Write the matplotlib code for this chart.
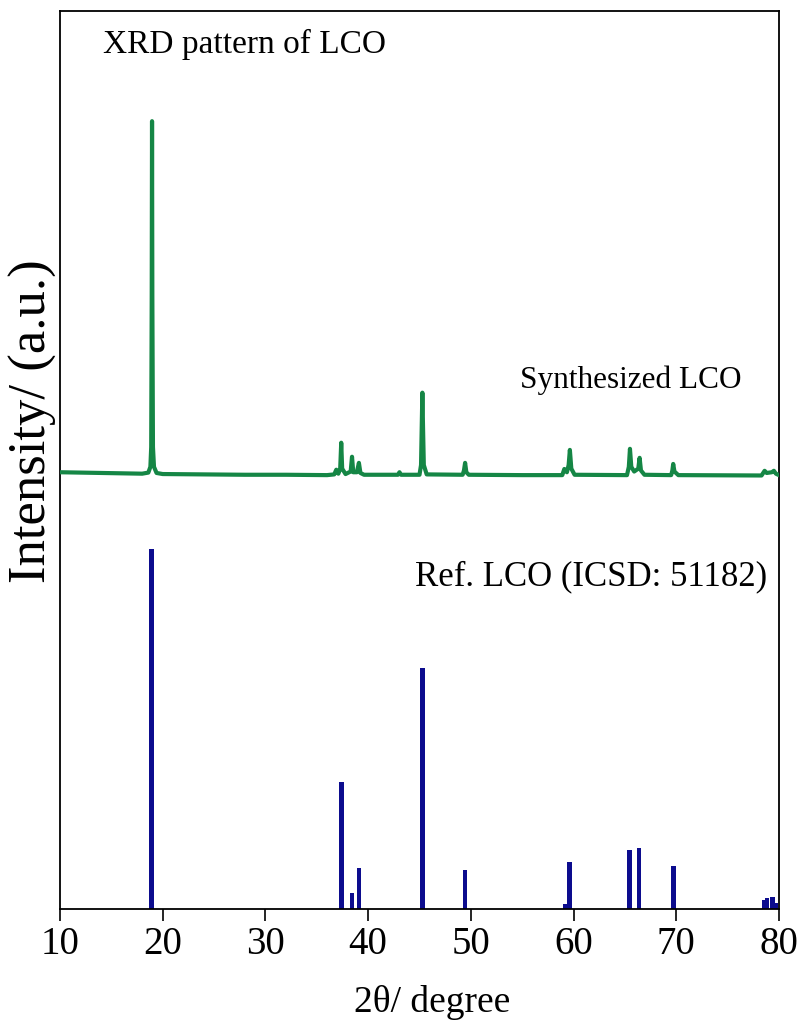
import matplotlib
matplotlib.use("Agg")
import matplotlib.pyplot as plt

plt.rcParams['font.family'] = ['Liberation Serif', 'DejaVu Serif']

# Reference pattern (ICSD 51182): stick positions (2theta, deg) and relative intensities
ref_2theta = [18.92, 37.40, 38.43, 39.08, 45.28, 49.41, 59.19, 59.61,
              65.46, 66.40, 69.72, 78.55, 78.80, 79.36, 79.70]
ref_intensity = [100.0, 35.4, 4.5, 11.4, 67.0, 10.8, 1.5, 13.0,
                 16.3, 16.9, 11.9, 2.5, 3.1, 3.4, 1.7]

# Measured pattern of the synthesized sample (2theta, intensity above its baseline)
meas_2theta = [10.0, 12.0, 14.0, 16.0, 18.0, 18.6, 18.8, 18.88, 18.93, 18.96,
               18.99, 19.05, 19.15, 19.4, 20.0, 24.0, 28.0, 32.0, 36.0, 36.7,
               36.9, 37.1, 37.28, 37.38, 37.47, 37.8, 38.3, 38.43, 38.55, 38.9,
               39.1, 39.25, 39.6, 42.0, 42.9, 43.05, 43.2, 45.0, 45.15, 45.22,
               45.28, 45.34, 45.42, 45.7, 49.2, 49.33, 49.44, 49.56, 49.8, 55.0,
               58.9, 59.1, 59.35, 59.52, 59.64, 59.78, 60.1, 65.2, 65.38, 65.49,
               65.62, 65.9, 66.3, 66.43, 66.56, 66.9, 69.5, 69.62, 69.7, 69.82,
               70.2, 78.3, 78.6, 78.8, 79.3, 79.5, 79.7, 80.0]
meas_intensity = [1.0, 0.9, 0.8, 0.7, 0.6, 0.9, 2.5, 8.0, 50.0, 98.5,
                  50.0, 8.0, 2.5, 0.8, 0.5, 0.4, 0.3, 0.3, 0.2, 0.4,
                  1.7, 0.6, 2.0, 9.2, 2.0, 0.5, 1.2, 5.3, 1.0, 1.0,
                  3.6, 0.8, 0.3, 0.3, 0.3, 1.0, 0.3, 0.3, 3.0, 14.0,
                  23.1, 14.0, 3.0, 0.4, 0.3, 1.5, 3.6, 1.0, 0.3, 0.2,
                  0.2, 1.9, 1.0, 3.0, 7.2, 2.0, 0.3, 0.2, 2.5, 7.5,
                  2.5, 1.2, 2.0, 5.0, 1.5, 0.3, 0.2, 1.5, 3.3, 1.2,
                  0.2, 0.1, 1.4, 0.8, 1.0, 1.4, 0.6, 0.2]
meas_offset = 120.3

x_ticks = [10, 20, 30, 40, 50, 60, 70, 80]

fig = plt.figure(figsize=(8.03, 10.28), dpi=100)
ax = fig.add_axes([60 / 803, 1 - 909 / 1028, 719 / 803, 898 / 1028])

ax.bar(ref_2theta, ref_intensity, width=0.42, color='#0c0c8e', linewidth=0, zorder=2)
ax.plot(meas_2theta, [v + meas_offset for v in meas_intensity],
        color='#158645', linewidth=3.0, solid_joinstyle='round', zorder=3)

ax.set_xlim(10, 80)
ax.set_ylim(0, 249.4)
ax.set_xticks(x_ticks)
ax.set_xticklabels([str(t) for t in x_ticks])
ax.set_yticks([])
ax.tick_params(axis='x', direction='out', length=8.5, width=1.2, pad=4, labelsize=28)
for sp in ax.spines.values():
    sp.set_linewidth(1.3)

ax.text(14.2, 240, 'XRD pattern of LCO', fontsize=24, ha='left', va='center')
ax.text(54.8, 146.9, 'Synthesized LCO', fontsize=22.5, ha='left', va='center')
ax.text(44.6, 92.2, 'Ref. LCO (ICSD: 51182)', fontsize=25, ha='left', va='center')

fig.text(33 / 803, 1 - 421 / 1028, 'Intensity/ (a.u.)', rotation=90,
         fontsize=38, ha='center', va='center')
fig.text(432 / 803, 1 - 1002 / 1028, '2\u03b8/ degree', fontsize=27,
         ha='center', va='center')

fig.savefig('out.png', dpi=100)
